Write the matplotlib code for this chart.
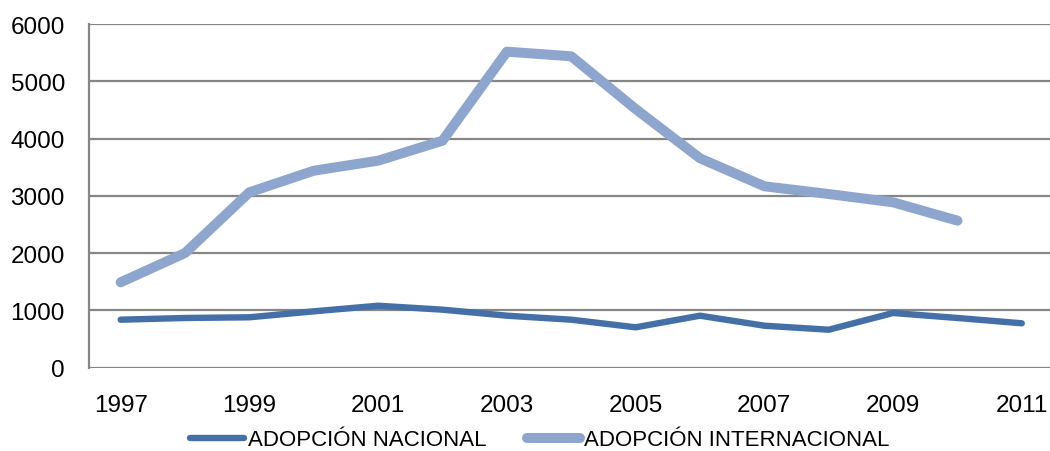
import matplotlib
matplotlib.use("Agg")
from matplotlib import pyplot as plt

# adopciones por año
years = [str(y) for y in range(1997, 2012)]
nacional = [838, 868, 880, 984, 1082, 1013, 908, 838, 705, 908, 733, 663, 955, 868, 775]
internacional = [1491, 2002, 3062, 3439, 3614, 3963, 5517, 5436, 4516, 3656, 3167, 3032, 2887, 2567]
y_ticks = [0, 1000, 2000, 3000, 4000, 5000, 6000]

plt.rcParams['font.family'] = ['Liberation Sans', 'DejaVu Sans']

fig = plt.figure(figsize=(10.5, 4.52), dpi=100)
ax = fig.add_axes([88.5 / 1050, 1 - 368.7 / 452, 965.5 / 1050, (368.7 - 25) / 452])

grid_color = '#868686'
x_nac = list(range(len(nacional)))
x_int = list(range(len(internacional)))
ax.plot(x_nac, nacional, color='#4470a7', lw=4.6, solid_capstyle='round',
        solid_joinstyle='round', label='ADOPCIÓN NACIONAL', zorder=3)
ax.plot(x_int, internacional, color='#8ea6cd', lw=7.2, solid_capstyle='round',
        solid_joinstyle='round', label='ADOPCIÓN INTERNACIONAL', zorder=3)

ax.set_xlim(-0.5, len(years) - 0.5)
ax.set_ylim(0, 6000)
ax.set_yticks(y_ticks)
ax.set_yticklabels([str(v) for v in y_ticks])
ax.set_xticks(range(0, len(years), 2))
ax.set_xticklabels(years[::2])
ax.tick_params(axis='both', length=0, labelsize=17.5, colors='black')
ax.tick_params(axis='y', pad=17)
ax.tick_params(axis='x', pad=19)

ax.grid(axis='y', color=grid_color, lw=1.6)
ax.set_axisbelow(True)
for side in ['top', 'right', 'bottom']:
    ax.spines[side].set_visible(False)
ax.spines['left'].set_color(grid_color)
ax.spines['left'].set_linewidth(1.6)

fig.legend(loc='center', bbox_to_anchor=(540 / 1050, 1 - 441 / 452), ncol=2, frameon=False,
           fontsize=16, handlelength=2.4, handletextpad=0.2, columnspacing=1.8,
           borderpad=0.1)

plt.savefig('out.png', dpi=100)
